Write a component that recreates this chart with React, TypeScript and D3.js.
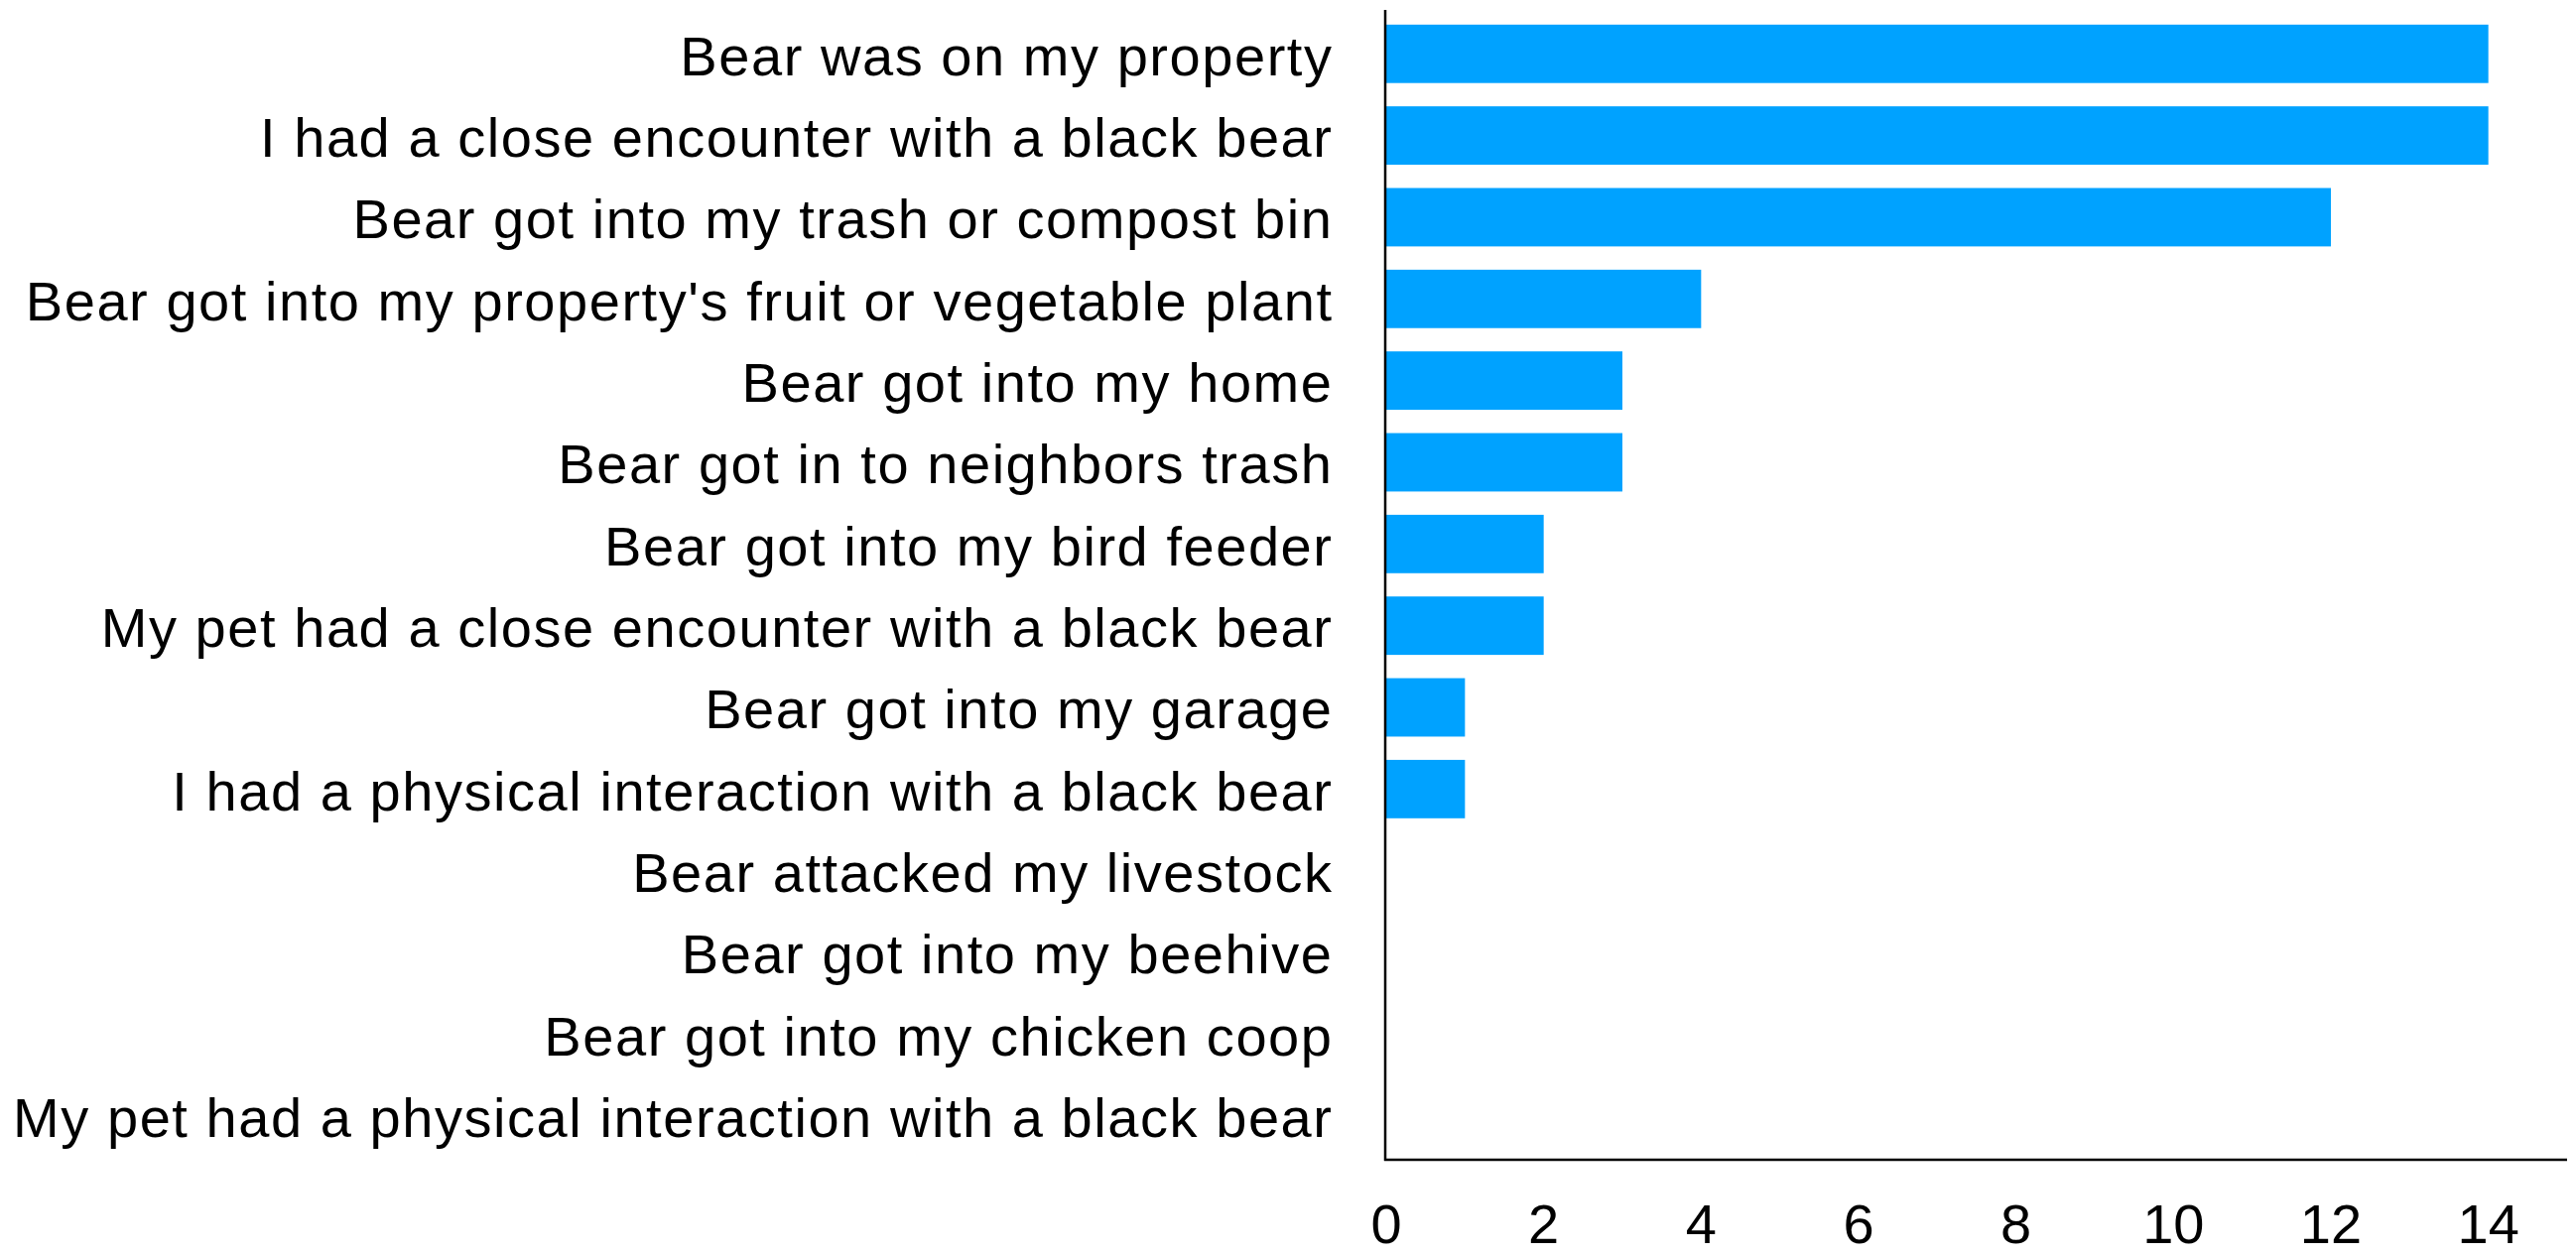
import React from "react";
import * as d3 from "d3";

const categories: string[] = [
  "Bear was on my property",
  "I had a close encounter with a black bear",
  "Bear got into my trash or compost bin",
  "Bear got into my property's fruit or vegetable plant",
  "Bear got into my home",
  "Bear got in to neighbors trash",
  "Bear got into my bird feeder",
  "My pet had a close encounter with a black bear",
  "Bear got into my garage",
  "I had a physical interaction with a black bear",
  "Bear attacked my livestock",
  "Bear got into my beehive",
  "Bear got into my chicken coop",
  "My pet had a physical interaction with a black bear",
];
const counts: number[] = [14, 14, 12, 4, 3, 3, 2, 2, 1, 1, 0, 0, 0, 0];
const xTicks: number[] = [0, 2, 4, 6, 8, 10, 12, 14];

const W = 2596;
const H = 1265;
const left = 1397;
const right = 2587;
const top = 10;
const bottom = 1169;
const FONT = "'Liberation Sans', Arial, Helvetica, sans-serif";

export default function App() {
  const x = d3.scaleLinear().domain([0, 15]).range([left, right]);
  const y = d3
    .scaleBand<string>()
    .domain(categories)
    .range([top, bottom])
    .paddingInner(0.285)
    .paddingOuter(0.18);

  return (
    <svg
      width={W}
      height={H}
      style={{ position: "absolute", left: 0, top: 0, background: "#fff" }}
    >
      {categories.map((c, i) => (
        <rect
          key={c}
          x={x(0)}
          y={y(c)!}
          width={x(counts[i]) - x(0)}
          height={y.bandwidth()}
          fill="#00a2ff"
        />
      ))}
      {categories.map((c) => (
        <text
          key={"l" + c}
          x={1343.5}
          y={y(c)! + y.bandwidth() / 2}
          dy="0.38em"
          textAnchor="end"
          fontFamily={FONT}
          fontSize={56}
          letterSpacing={1.55}
          fill="#000"
        >
          {c}
        </text>
      ))}
      <line x1={left - 1} x2={left - 1} y1={top} y2={bottom + 1} stroke="#000" strokeWidth={2.5} />
      <line x1={left - 2} x2={right} y1={bottom} y2={bottom} stroke="#000" strokeWidth={2.5} />
      {xTicks.map((t) => (
        <text
          key={"t" + t}
          x={x(t)}
          y={1253}
          textAnchor="middle"
          fontFamily={FONT}
          fontSize={56}
          fill="#000"
        >
          {t}
        </text>
      ))}
    </svg>
  );
}
